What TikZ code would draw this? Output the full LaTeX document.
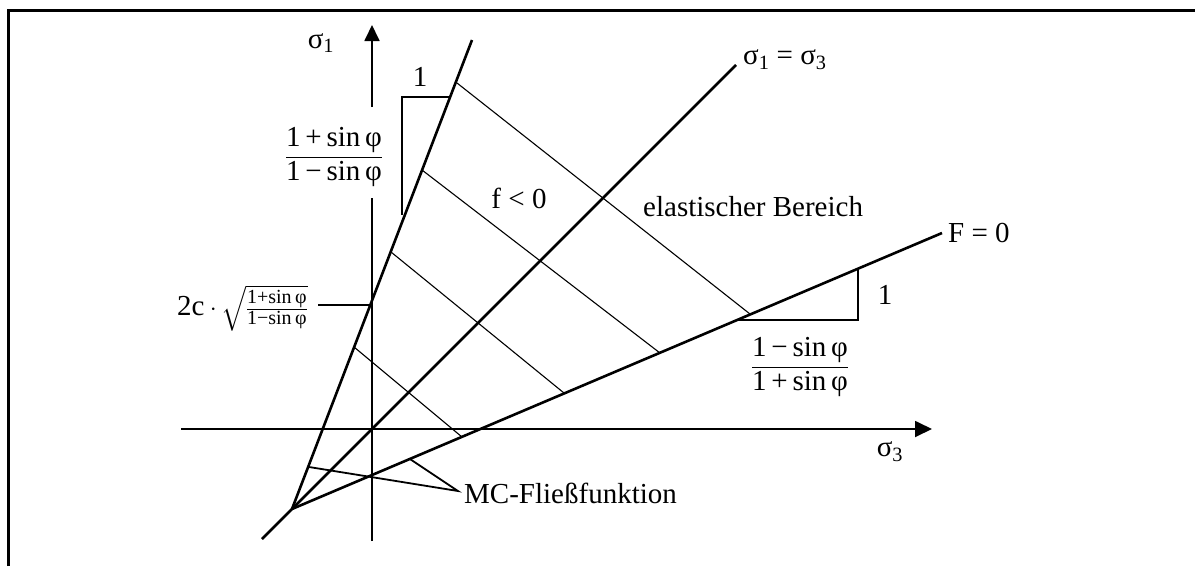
\documentclass[tikz,border=0pt]{standalone}
\usepackage{amsmath}
\usepackage{fontspec}
\setmainfont{Liberation Serif}
\usetikzlibrary{arrows.meta}
\newcommand{\smallfr}[1]{\mbox{\fontsize{20}{22}\selectfont #1}}
\begin{document}
\begin{tikzpicture}[x=1pt,y=-1pt,
  font=\fontsize{29}{34}\selectfont,
  thickline/.style={line width=2.6pt},
  axisline/.style={line width=1.8pt},
  thinline/.style={line width=1.1pt},
  legline/.style={line width=1.4pt},
  lbl/.style={inner sep=0pt}]
\useasboundingbox (0,0) rectangle (1195,566);
% frame
\draw[line width=3pt] (8.5,566) -- (8.5,10) -- (1195,10);
% coordinates
\coordinate (O) at (372,429);
\coordinate (V) at (292,509);
\coordinate (T1) at (472,40);
\coordinate (B2) at (262,539);
\coordinate (T2) at (736,65);
\coordinate (T3) at (942,233);
\coordinate (Yb) at (372,541);
\coordinate (Ya) at (372,198);
\coordinate (Yc) at (372,107);
\coordinate (Yt) at (372,25);
\coordinate (Xl) at (181,429);
\coordinate (Xr) at (932,429);
% axes
\draw[axisline] (Yb) -- (Ya);
\draw[axisline,-{Triangle[length=16pt,width=15pt]}] (Yc) -- (Yt);
\draw[axisline,-{Triangle[length=17pt,width=16pt]}] (Xl) -- (Xr);
% main lines
\draw[thickline] (V) -- (T1);
\draw[thickline] (B2) -- (T2);
\draw[thickline] (V) -- (T3);
% hatch lines
\coordinate (h1a) at (457,83);  \coordinate (h1b) at (750,314);
\coordinate (h2a) at (422,170); \coordinate (h2b) at (660,353);
\coordinate (h3a) at (391,252); \coordinate (h3b) at (564,393);
\coordinate (h4a) at (354,347); \coordinate (h4b) at (462,437);
\draw[thinline] (h1a) -- (h1b);
\draw[thinline] (h2a) -- (h2b);
\draw[thinline] (h3a) -- (h3b);
\draw[thinline] (h4a) -- (h4b);
% slope triangles
\coordinate (s1a) at (450,97); \coordinate (s1b) at (402,97); \coordinate (s1c) at (402,215);
\draw[legline] (s1a) -- (s1b) -- (s1c);
\coordinate (s2a) at (737,320); \coordinate (s2b) at (858,320); \coordinate (s2c) at (858,269);
\draw[legline] (s2a) -- (s2b) -- (s2c);
% intercept tick
\coordinate (ta) at (318,305); \coordinate (tb) at (372,305);
\draw[axisline] (ta) -- (tb);
% leader lines
\coordinate (L) at (458,491);
\coordinate (La) at (309,467);
\coordinate (Lb) at (410,459);
\draw[axisline] (La) -- (L) -- (Lb);
% labels
\node[lbl] (sig1) at (321,43) {σ\textsubscript{1}};
\node[lbl] (sig3) at (890,452) {σ\textsubscript{3}};
\node[lbl,anchor=west] (eq) at (743,60) {σ\textsubscript{1} = σ\textsubscript{3}};
\node[lbl,anchor=west] (F0) at (948,233) {F = 0};
\node[lbl,anchor=west] (el) at (643,207) {elastischer Bereich};
\node[lbl] (fl) at (519,198) {f < 0};
\node[lbl,anchor=west] (mc) at (464,493) {MC-Fließfunktion};
\node[lbl] (one1) at (420,77) {1};
\node[lbl] (one2) at (885,295) {1};
\node[lbl] (fr1) at (334,157) {$\dfrac{\mbox{1\,+\,sin\,φ}}{\mbox{1\,−\,sin\,φ}}$};
\node[lbl] (fr2) at (800,367) {$\dfrac{\mbox{1\,−\,sin\,φ}}{\mbox{1\,+\,sin\,φ}}$};
\node[lbl,anchor=east] (cl) at (308,308) {$\mbox{2c}\mskip4mu{\cdot}\mskip3mu\sqrt{\tfrac{\smallfr{1+sin\,φ}}{\smallfr{1−sin\,φ}}}$};
\end{tikzpicture}
\end{document}
